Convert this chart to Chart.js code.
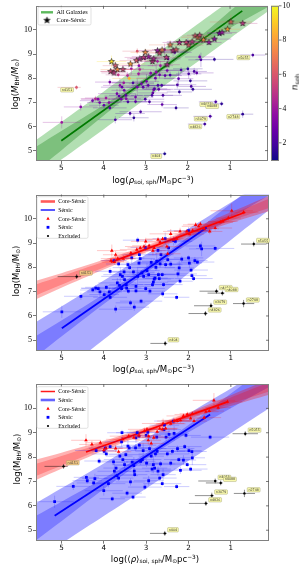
<!DOCTYPE html>
<html><head><meta charset="utf-8">
<script src="https://cdn.jsdelivr.net/npm/chart.js@4.4.0/dist/chart.umd.min.js"></script>
<style>
html,body{margin:0;padding:0;background:#fff;}
#wrap{position:relative;width:299px;height:569px;overflow:hidden;background:#fff;}
canvas{position:absolute;left:0;}
.t{position:absolute;font-family:"DejaVu Sans";font-size:8.6px;white-space:nowrap;color:#000;line-height:1;}
.yl{transform:translate(-50%,-50%) rotate(-90deg);}
.xl{transform:translate(-50%,-50%);}
.t sub{font-size:68%;vertical-align:-0.25em;line-height:0;}
.t sup{font-size:68%;vertical-align:0.45em;line-height:0;}
</style></head>
<body><div id="wrap">
<canvas id="c1" width="299" height="185" style="top:0px"></canvas>
<canvas id="c2" width="299" height="190" style="top:185px"></canvas>
<canvas id="c3" width="299" height="194" style="top:375px"></canvas>
<div class="t yl" style="left:15px;top:84px">log(<i>M</i><sub>BH</sub>/<i>M</i><sub>⊙</sub>)</div>
<div class="t xl" style="left:153px;top:179.5px">log(<i>ρ</i><sub>soi, sph</sub>/M<sub>⊙</sub>pc<sup>−3</sup>)</div>
<div class="t yl" style="left:294.5px;top:82px;font-size:9px"><i>n</i><sub>sph</sub></div>
<div class="t yl" style="left:16px;top:271px">log(M<sub>BH</sub>/M<sub>⊙</sub>)</div>
<div class="t xl" style="left:153.5px;top:369px">log(<i>ρ</i><sub>soi, sph</sub>/M<sub>⊙</sub>pc<sup>−3</sup>)</div>
<div class="t yl" style="left:17px;top:459px">log(M<sub>BH</sub>/M<sub>⊙</sub>)</div>
<div class="t xl" style="left:155px;top:559px">log(⟨<i>ρ</i>⟩<sub>soi, sph</sub>/M<sub>⊙</sub>pc<sup>−3</sup>)</div>
</div>
<script>
// ---------------- DATA ----------------
const xTicks=[1,2,3,4,5];
const yTicks=[5,6,7,8,9,10];
const cbTicks=[2,4,6,8,10];
const xMin=0.1,xMax=5.6,yMin=4.57,yMax=11.0,nMin=0.94,nMax=10;

// core-Sersic galaxies (panels 1 & 2)
const csX=[3.81,3.72,3.83,3.75,3.67,3.54,3.36,3.22,3.14,3.05,3.01,2.93,2.84,2.81,2.72,2.67,2.61,2.51,2.49,2.42,2.35,2.28,2.20,2.04,1.98,1.90,1.83,1.76,1.72,1.63,1.50,1.37,1.25,1.19,1.06,0.98,0.70];
const csY=[8.69,8.52,8.28,8.22,8.36,8.36,8.59,8.73,8.80,8.86,9.07,8.89,8.69,8.80,9.14,9.04,9.17,8.86,8.56,9.38,9.14,9.18,9.48,9.48,9.37,9.51,9.75,9.69,9.78,9.59,9.48,9.62,9.86,9.89,10.03,10.33,10.27];
const csN=[9.5,6,5.5,5,7.5,5.5,8,6,4.5,5,7.5,4,5,4.5,4,5.5,7,5,4.5,7,5,6,4.5,5.5,6,5,6,7,5.5,7.5,4,3.5,3,4,8,6.5,5];
const csXErr=[0.35,0.3,0.25,0.3,0.4,0.3,0.35,0.4,0.3,0.45,0.35,0.4,0.3,0.35,0.45,0.3,0.4,0.35,0.3,0.5,0.35,0.3,0.4,0.3,0.35,0.45,0.3,0.4,0.3,0.35,0.3,0.4,0.3,0.35,0.3,0.5,0.35];
const csYErr=[0.25,0.15,0.1,0.12,0.1,0.15,0.1,0.12,0.08,0.1,0.15,0.1,0.2,0.1,0.1,0.12,0.08,0.1,0.15,0.2,0.1,0.1,0.15,0.08,0.1,0.1,0.12,0.1,0.1,0.08,0.12,0.1,0.1,0.08,0.1,0.3,0.1];
// core-Sersic x in panel 3
const cs3X=[4.42,4.28,4.0,3.65,3.95,3.72,4.08,3.55,3.29,3.41,3.04,3.17,2.95,2.82,2.98,2.74,2.68,2.94,2.88,2.60,2.62,2.54,2.34,2.26,2.42,2.19,2.03,2.12,1.91,1.95,1.87,1.63,1.59,1.51,1.30,1.40,1.08];

// Sersic galaxies (panels 1 & 2)
const sX=[4.99,4.54,4.26,4.19,4.13,4.09,3.99,3.94,3.87,3.85,
3.85,3.76,3.72,3.68,3.65,3.63,3.61,3.58,3.56,3.52,
3.51,3.47,3.46,3.42,3.43,3.39,3.37,3.34,3.30,3.28,
3.24,3.24,3.20,3.20,3.17,3.16,3.14,3.12,3.10,3.06,
3.02,3.01,2.98,2.94,2.91,2.88,2.85,2.83,2.81,2.79,
2.77,2.75,2.72,2.71,2.69,2.67,2.65,2.62,2.61,2.59,
2.55,2.54,2.49,2.47,2.42,2.35,2.31,2.28,2.25,2.22,
2.20,2.16,2.00,2.00,1.98,1.94,1.92,1.88,1.85,1.79,
1.72,1.69,1.37];
const sY=[6.17,6.81,7.07,7.15,7.13,6.99,6.88,7.18,6.99,6.77,
7.84,8.28,6.28,7.36,8.14,7.26,7.70,7.13,7.63,7.81,
7.50,7.29,7.15,7.02,8.11,7.99,6.54,8.39,7.81,6.36,
7.22,7.03,7.63,9.12,8.18,8.52,8.36,6.61,7.77,7.63,
8.82,7.13,7.87,7.70,7.02,8.21,7.29,7.39,7.52,7.56,
8.00,8.25,8.70,7.70,7.54,8.14,8.52,7.70,6.91,7.29,
9.18,8.11,8.32,8.80,8.13,9.10,9.07,6.77,7.73,7.98,
7.43,8.34,8.39,9.51,8.18,7.89,7.66,7.54,8.28,8.22,
8.88,8.76,8.78];
const sN=[4,3.5,3,4.5,3.5,3,2.5,4,3.5,2.5,
3,5.5,2,3,5,2.5,3.5,3,2.5,4,
3,2.5,3.5,2,4.5,8.5,2,4,2,1.5,
3,2.5,3,6,4,3.5,4.5,2,3,2.5,
4,2,3,2.5,2,3.5,2,2.5,3,2,
3,3.5,4,2,2.5,3,4,2,2.5,2,
3.5,2.5,3,3,2,3,2.5,1.5,2,2.5,
1.5,2,1.5,3,2,1.5,2,1.5,2,2.5,
3,2,1.5];
const sXErr=[0.45,0.4,0.3,0.35,0.4,0.3,0.35,0.5,0.3,0.4,
0.35,0.3,0.4,0.45,0.3,0.35,0.4,0.3,0.5,0.35,
0.3,0.4,0.35,0.45,0.3,0.4,0.35,0.3,0.5,0.35,
0.4,0.3,0.45,0.35,0.3,0.4,0.35,0.5,0.3,0.4,
0.35,0.45,0.3,0.4,0.35,0.3,0.5,0.35,0.4,0.3,
0.45,0.35,0.3,0.4,0.35,0.5,0.3,0.4,0.35,0.45,
0.3,0.4,0.35,0.3,0.5,0.35,0.4,0.3,0.45,0.35,
0.3,0.4,0.35,0.5,0.3,0.4,0.35,0.45,0.3,0.4,
0.35,0.3,0.45];
const sYErr=[0.25,0.15,0.1,0.12,0.1,0.2,0.12,0.1,0.15,0.1,
0.12,0.1,0.15,0.2,0.1,0.12,0.3,0.1,0.15,0.12,
0.1,0.2,0.12,0.1,0.15,0.1,0.12,0.25,0.1,0.15,
0.12,0.1,0.35,0.12,0.1,0.15,0.2,0.1,0.12,0.1,
0.15,0.1,0.3,0.12,0.1,0.15,0.1,0.2,0.12,0.1,
0.15,0.35,0.1,0.12,0.1,0.15,0.2,0.1,0.12,0.1,
0.25,0.12,0.1,0.15,0.1,0.2,0.12,0.1,0.15,0.3,
0.1,0.12,0.1,0.15,0.2,0.1,0.12,0.1,0.15,0.1,
0.12,0.3,0.1];

// Sersic galaxies (panel 3)
const s3X=[5.16,4.72,4.41,4.39,4.24,4.21,4.11,4.18,3.99,3.96,
3.94,3.85,3.89,4.00,3.80,3.77,3.75,3.71,3.69,3.65,
3.62,3.58,3.57,3.55,3.51,3.48,3.45,3.43,3.40,3.37,
3.33,3.31,3.29,3.28,3.27,3.25,3.24,3.21,3.17,3.16,
3.13,3.09,3.07,3.03,3.00,2.99,2.96,2.94,2.92,2.88,
2.86,2.83,2.80,2.78,2.75,2.74,2.72,2.68,2.66,2.62,
2.60,2.58,2.57,2.53,2.50,2.46,2.42,2.38,2.36,2.34,
2.28,2.26,2.23,2.19,2.12,2.09,2.06,2.03,1.99,1.95,
1.92,1.91,1.49];
const s3Y=[6.17,6.80,7.17,7.03,6.94,7.12,7.84,8.27,8.24,8.37,
8.13,8.43,6.91,6.62,6.29,7.80,7.42,7.55,7.24,7.14,
8.04,8.63,9.00,7.90,7.69,8.10,6.52,8.45,8.38,6.98,
7.79,6.36,7.65,7.42,7.28,8.38,8.79,9.00,8.86,8.49,
7.83,7.90,8.27,6.77,8.89,7.75,9.02,7.03,8.35,8.04,
7.51,7.69,7.55,8.13,8.82,8.24,7.42,7.14,7.72,6.91,
7.28,9.13,9.31,8.82,8.13,8.93,7.75,8.24,9.48,8.97,
6.79,8.35,7.90,7.46,7.88,8.43,8.89,7.69,8.27,7.51,
8.23,7.97,8.82];

// excluded galaxies
const exName=["n4151","n5055","n4013","n4088","n3079","n4826","n2748","n404"];
const exX=[4.64,0.46,1.34,1.20,1.47,1.60,0.70,2.55];
const exY=[7.62,8.96,7.02,6.94,6.42,6.10,6.51,4.87];
const ex3X=[4.95,0.66,1.37,1.24,1.45,1.59,0.68,2.56];
const exN=[6,2,2,1.5,2,1.8,1.5,1.2];
const exXErrHi=[0.45,0.3,0.4,0.35,0.4,0.4,0.25,0.35];
const exXErrLo=[0.1,0.3,0.05,0.05,0.05,0.05,0.25,0.05];
const exYErr=[0.1,0.1,0.1,0.1,0.12,0.1,0.15,0.1];

// fit lines and bands
const bandX=[5.6,5,4,3,2,1,0.1];
const gLineX=[5.0,0.71], gLineY=[5.41,10.79];
const gOutUp=[5.44,6.19,7.44,8.70,9.95,11.21,12.33];
const gOutLo=[3.88,4.63,5.88,7.14,8.39,9.65,10.77];
const gInUp=[5.16,5.81,6.88,8.02,9.31,10.78,12.15];
const gInLo=[4.16,5.01,6.44,7.82,9.03,10.08,10.95];

const b2LineX=[4.99,1.57], b2LineY=[5.49,9.64];
const r2LineX=[3.83,0.66], r2LineY=[8.22,10.27];
const b2OutUp=[5.75,6.39,7.46,8.53,9.60,10.67,11.63];
const b2OutLo=[2.84,3.66,5.03,6.39,7.76,9.13,10.36];
const b2InUp=[5.17,5.81,6.89,8.02,9.27,10.63,11.87];
const b2InLo=[4.33,5.15,6.49,7.78,8.97,10.03,10.97];
const r2OutUp=[7.45,7.76,8.31,8.90,9.54,10.27,10.95];
const r2OutLo=[6.69,7.16,7.91,8.62,9.26,9.83,10.31];
const r2InUp=[7.30,7.64,8.23,8.84,9.48,10.18,10.82];
const r2InLo=[6.84,7.28,7.99,8.68,9.32,9.92,10.44];

const b3LineX=[5.16,1.49], b3LineY=[5.59,9.75];
const r3LineX=[4.42,1.08], r3LineY=[8.21,10.27];
const b3OutUp=[6.11,6.72,7.74,8.77,9.79,10.82,11.74];
const b3OutLo=[3.77,4.45,5.58,6.71,7.85,8.98,10.0];
const b3InUp=[5.59,6.17,7.13,8.16,9.32,10.61,11.78];
const b3InLo=[4.59,5.37,6.69,7.92,9.02,10.01,10.88];
const r3OutUp=[7.90,8.18,8.67,9.22,9.83,10.54,11.20];
const r3OutLo=[7.06,7.52,8.27,8.96,9.57,10.10,10.56];
const r3InUp=[7.73,8.05,8.59,9.17,9.78,10.45,11.07];
const r3InLo=[7.23,7.65,8.35,9.01,9.62,10.19,10.69];

// ---------------- HELPERS ----------------
const plasma=[[13,8,135],[65,4,157],[106,0,168],[143,13,164],[177,42,144],[204,71,120],[225,100,98],[242,132,75],[252,166,54],[252,206,37],[240,249,33]];
function nColor(n,a){let t=(n-nMin)/(nMax-nMin);t=Math.max(0,Math.min(1,t));const f=t*10;const i=Math.min(9,Math.floor(f));const u=f-i;const c0=plasma[i],c1=plasma[i+1];const c=c0.map((v,k)=>Math.round(v+(c1[k]-v)*u));return a==null?`rgb(${c.join(',')})`:`rgba(${c.join(',')},${a})`;}
function starImg(fill,R){const s=Math.ceil(2*R+2);const cv=document.createElement('canvas');cv.width=s;cv.height=s;const g=cv.getContext('2d');g.translate(s/2,s/2);g.beginPath();for(let k=0;k<10;k++){const r=k%2?R*0.42:R;const a=-Math.PI/2+k*Math.PI/5;g.lineTo(r*Math.cos(a),r*Math.sin(a));}g.closePath();g.fillStyle=fill;g.fill();g.lineWidth=0.6;g.strokeStyle='#1a1a1a';g.stroke();return cv;}
const pts=(xs,ys)=>xs.map((x,i)=>({x:x,y:ys[i]}));
const none='rgba(0,0,0,0)';
function band(up,lo,color,order){return [
 {type:'line',data:pts(bandX,up),fill:'+1',backgroundColor:color,borderColor:none,borderWidth:0,pointRadius:0,tension:0.3,order:order},
 {type:'line',data:pts(bandX,lo),fill:false,backgroundColor:none,borderColor:none,borderWidth:0,pointRadius:0,tension:0.3,order:order}];}
function fitLine(xs,ys,color,w){return {type:'line',data:pts(xs,ys),fill:false,borderColor:color,borderWidth:w,pointRadius:0,tension:0,order:5};}
function rrect(ctx,x,y,w,h,r){ctx.beginPath();ctx.moveTo(x+r,y);ctx.lineTo(x+w-r,y);ctx.quadraticCurveTo(x+w,y,x+w,y+r);ctx.lineTo(x+w,y+h-r);ctx.quadraticCurveTo(x+w,y+h,x+w-r,y+h);ctx.lineTo(x+r,y+h);ctx.quadraticCurveTo(x,y+h,x,y+h-r);ctx.lineTo(x,y+r);ctx.quadraticCurveTo(x,y,x+r,y);ctx.closePath();}

const errPlugin={id:'errbars',beforeDatasetDraw(chart,args){const ds=chart.data.datasets[args.index];if(!ds.errXp)return;const xs=chart.scales.x,ys=chart.scales.y,ctx=chart.ctx,a=chart.chartArea;ctx.save();ctx.beginPath();ctx.rect(a.left,a.top,a.width,a.height);ctx.clip();ctx.lineWidth=0.8;ds.data.forEach((p,i)=>{const px=xs.getPixelForValue(p.x),py=ys.getPixelForValue(p.y);ctx.strokeStyle=Array.isArray(ds.errColor)?ds.errColor[i]:ds.errColor;ctx.beginPath();ctx.moveTo(xs.getPixelForValue(p.x+ds.errXp[i]),py);ctx.lineTo(xs.getPixelForValue(p.x-ds.errXm[i]),py);ctx.moveTo(px,ys.getPixelForValue(p.y+ds.errY[i]));ctx.lineTo(px,ys.getPixelForValue(p.y-ds.errY[i]));ctx.stroke();});ctx.restore();}};

const framePlugin={id:'frame',afterDatasetsDraw(chart){const a=chart.chartArea,ctx=chart.ctx;ctx.save();ctx.strokeStyle='#808080';ctx.lineWidth=1;ctx.strokeRect(Math.round(a.left)+0.5,Math.round(a.top)+0.5,Math.round(a.width)-1,Math.round(a.height)-1);ctx.strokeStyle='#555';ctx.lineWidth=0.8;ctx.beginPath();xTicks.forEach(v=>{const p=chart.scales.x.getPixelForValue(v);ctx.moveTo(p,a.top);ctx.lineTo(p,a.top+3);});yTicks.forEach(v=>{const p=chart.scales.y.getPixelForValue(v);ctx.moveTo(a.right,p);ctx.lineTo(a.right-3,p);});ctx.stroke();ctx.restore();}};

const labelPlugin={id:'exlabels',afterDatasetsDraw(chart){const ctx=chart.ctx;chart.data.datasets.forEach(ds=>{if(!ds.names)return;ds.data.forEach((p,i)=>{const px=chart.scales.x.getPixelForValue(p.x),py=chart.scales.y.getPixelForValue(p.y);ctx.save();ctx.font='3.3px "DejaVu Sans"';const w=ctx.measureText(ds.names[i]).width+2.4,h=4.4;let bx,by;if(ds.labelSide==='left'){bx=px-3-w;by=py+0.3;}else{bx=px+2.8;by=py-1.4-h;}rrect(ctx,bx,by,w,h,0.8);ctx.fillStyle=ds.labelFill[i];ctx.fill();ctx.strokeStyle='rgba(140,140,90,0.9)';ctx.lineWidth=0.4;ctx.stroke();ctx.fillStyle='#333';ctx.textBaseline='middle';ctx.fillText(ds.names[i],bx+1.2,by+h/2+0.2);ctx.restore();});});}};

function legendPlugin(L){return {id:'clegend',afterDraw(chart){const ctx=chart.ctx;ctx.save();rrect(ctx,L.x,L.y,L.w,L.h,1.5);ctx.fillStyle='rgba(255,255,255,0.88)';ctx.fill();ctx.strokeStyle='#cfcfcf';ctx.lineWidth=0.6;ctx.stroke();ctx.font=L.font;ctx.textBaseline='middle';L.items.forEach(it=>{const y=it.y;if(it.kind==='line'){ctx.strokeStyle=it.color;ctx.lineWidth=it.w;ctx.beginPath();ctx.moveTo(L.l0,y);ctx.lineTo(L.l1,y);ctx.stroke();}else if(it.kind==='star'){const im=starImg('#000',3.3);ctx.drawImage(im,L.mx-im.width/2,y-im.height/2);}else if(it.kind==='tri'){ctx.fillStyle=it.color;ctx.beginPath();ctx.moveTo(L.mx,y-1.9);ctx.lineTo(L.mx+1.7,y+1.1);ctx.lineTo(L.mx-1.7,y+1.1);ctx.closePath();ctx.fill();}else if(it.kind==='sq'){ctx.fillStyle=it.color;ctx.fillRect(L.mx-1.4,y-1.4,2.8,2.8);}else if(it.kind==='dot'){ctx.fillStyle=it.color;ctx.beginPath();ctx.arc(L.mx,y,1.1,0,Math.PI*2);ctx.fill();}ctx.fillStyle='#000';ctx.fillText(it.label,L.tx,y+0.3);});ctx.restore();}};}

const colorbarPlugin={id:'cbar',afterDraw(chart){const a=chart.chartArea,ctx=chart.ctx;const x0=271,x1=279;ctx.save();const g=ctx.createLinearGradient(0,a.bottom,0,a.top);plasma.forEach((c,i)=>g.addColorStop(i/10,`rgb(${c.join(',')})`));ctx.fillStyle=g;ctx.fillRect(x0,a.top,x1-x0,a.height);ctx.strokeStyle='#808080';ctx.lineWidth=1;ctx.strokeRect(x0+0.5,a.top+0.5,x1-x0-1,a.height-1);ctx.strokeStyle='#555';ctx.lineWidth=0.8;ctx.fillStyle='#000';ctx.font='7.5px "Liberation Serif"';ctx.textBaseline='middle';cbTicks.forEach(v=>{const py=a.bottom-(v-nMin)/(nMax-nMin)*a.height;ctx.beginPath();ctx.moveTo(x1,py);ctx.lineTo(x1+2.5,py);ctx.stroke();ctx.fillText(String(v),x1+3.5,py+0.3);});ctx.restore();}};

function makeChart(id,cfg){
 return new Chart(document.getElementById(id),{
  type:'scatter',
  data:{datasets:cfg.datasets},
  options:{responsive:false,animation:false,events:[],
   layout:{padding:{top:cfg.padTop,right:cfg.padRight,left:0,bottom:0}},
   plugins:{legend:{display:false},tooltip:{enabled:false}},
   scales:{
    x:{type:'linear',reverse:true,min:xMin,max:xMax,
     afterBuildTicks:s=>{s.ticks=xTicks.map(v=>({value:v}));},
     afterFit:s=>{s.height=cfg.xH;},
     grid:{display:true,drawOnChartArea:false,drawTicks:true,tickLength:3,color:'#555',lineWidth:0.8},
     border:{display:false},
     ticks:{color:'#000',font:{family:'DejaVu Sans',size:7.2},padding:0,maxRotation:0,autoSkip:false}},
    y:{type:'linear',min:yMin,max:yMax,
     afterBuildTicks:s=>{s.ticks=yTicks.map(v=>({value:v}));},
     afterFit:s=>{s.width=36;},
     grid:{display:true,drawOnChartArea:false,drawTicks:true,tickLength:3,color:'#555',lineWidth:0.8},
     border:{display:false},
     ticks:{color:'#000',font:{family:'Liberation Serif',size:8},padding:1,autoSkip:false}}
   }},
  plugins:[errPlugin,framePlugin,labelPlugin,legendPlugin(cfg.legend)].concat(cfg.extra||[])
 });
}

// ---------------- PANEL 1 ----------------
makeChart('c1',{padTop:4,padRight:31,xH:24,
 datasets:[].concat(
  band(gOutUp,gOutLo,'rgba(0,150,0,0.3)',10),
  band(gInUp,gInLo,'rgba(0,120,0,0.3)',9),
  [fitLine(gLineX,gLineY,'#007a00',1.7),
   {data:pts(sX,sY),pointStyle:'circle',pointRadius:1.35,backgroundColor:sN.map(n=>nColor(n)),borderWidth:0,order:3,
    errXp:sXErr,errXm:sXErr,errY:sYErr,errColor:sN.map(n=>nColor(n,0.32))},
   {data:pts(exX,exY),pointStyle:'circle',pointRadius:1.35,backgroundColor:exN.map(n=>nColor(n)),borderWidth:0,order:2,
    errXp:exXErrHi,errXm:exXErrLo,errY:exYErr,errColor:exN.map(n=>nColor(n,0.32)),
    names:exName,labelSide:'left',labelFill:exName.map(()=>'rgba(250,250,170,0.95)')},
   {data:pts(csX,csY),pointStyle:csN.map(n=>starImg(nColor(n),3.1)),pointRadius:3,order:1,
    errXp:csXErr,errXm:csXErr,errY:csYErr,errColor:csN.map(n=>nColor(n,0.32))}]
 ),
 legend:{x:38,y:7,w:53,h:18,l0:41,l1:53,mx:47,tx:56.5,font:'6.2px "Liberation Serif"',
  items:[{kind:'line',color:'#5cb85c',w:2.4,label:'All Galaxies',y:12.3},{kind:'star',label:'Core-Sérsic',y:20.3}]},
 extra:[colorbarPlugin]
});

// ---------------- PANEL 2 ----------------
const lg23=(red,blue)=>({x:37,y:11.7,w:51,h:41.6,l0:40.7,l1:55,mx:48,tx:58.3,font:'5.8px "Liberation Serif"',
 items:[{kind:'line',color:red.c,w:red.w,label:'Core-Sérsic',y:16.5},{kind:'line',color:blue.c,w:blue.w,label:'Sérsic',y:25},
  {kind:'tri',color:'#ff0000',label:'Core-Sérsic',y:33.7},{kind:'sq',color:'#0000ff',label:'Sérsic',y:42.3},{kind:'dot',color:'#000',label:'Excluded',y:51}]});

makeChart('c2',{padTop:9.5,padRight:30,xH:24.3,
 datasets:[].concat(
  band(b2OutUp,b2OutLo,'rgba(0,0,255,0.33)',12),
  band(b2InUp,b2InLo,'rgba(0,0,255,0.28)',11),
  band(r2OutUp,r2OutLo,'rgba(255,0,0,0.3)',10),
  band(r2InUp,r2InLo,'rgba(255,0,0,0.25)',9),
  [fitLine(b2LineX,b2LineY,'#0000ff',1.8),fitLine(r2LineX,r2LineY,'#ff0000',1.8),
   {data:pts(sX,sY),pointStyle:'rect',pointRadius:1.95,backgroundColor:'#0000ff',borderWidth:0,order:3,
    errXp:sXErr,errXm:sXErr,errY:sYErr,errColor:'rgba(0,0,255,0.25)'},
   {data:pts(csX,csY),pointStyle:'triangle',pointRadius:2.1,backgroundColor:'#ff0000',borderWidth:0,order:2,
    errXp:csXErr,errXm:csXErr,errY:csYErr,errColor:'rgba(255,0,0,0.28)'},
   {data:pts(exX,exY),pointStyle:'circle',pointRadius:1.2,backgroundColor:'#000',borderWidth:0,order:1,
    errXp:exXErrHi,errXm:exXErrLo,errY:exYErr,errColor:'rgba(0,0,0,0.55)',
    names:exName,labelSide:'right',labelFill:exName.map((s,i)=>i===0?'rgba(245,200,130,0.95)':'rgba(250,250,170,0.95)')}]
 ),
 legend:lg23({c:'#ff5a5a',w:2.6},{c:'#1f1fff',w:1.5})
});

// ---------------- PANEL 3 ----------------
makeChart('c3',{padTop:9,padRight:30,xH:28.3,
 datasets:[].concat(
  band(b3OutUp,b3OutLo,'rgba(0,0,255,0.33)',12),
  band(b3InUp,b3InLo,'rgba(0,0,255,0.28)',11),
  band(r3OutUp,r3OutLo,'rgba(255,0,0,0.3)',10),
  band(r3InUp,r3InLo,'rgba(255,0,0,0.25)',9),
  [fitLine(b3LineX,b3LineY,'#0000ff',1.8),fitLine(r3LineX,r3LineY,'#ff0000',1.8),
   {data:pts(s3X,s3Y),pointStyle:'rect',pointRadius:1.95,backgroundColor:'#0000ff',borderWidth:0,order:3,
    errXp:sXErr,errXm:sXErr,errY:sYErr,errColor:'rgba(0,0,255,0.25)'},
   {data:pts(cs3X,csY),pointStyle:'triangle',pointRadius:2.1,backgroundColor:'#ff0000',borderWidth:0,order:2,
    errXp:csXErr,errXm:csXErr,errY:csYErr,errColor:'rgba(255,0,0,0.28)'},
   {data:pts(ex3X,exY),pointStyle:'circle',pointRadius:1.2,backgroundColor:'#000',borderWidth:0,order:1,
    errXp:exXErrHi,errXm:exXErrLo,errY:exYErr,errColor:'rgba(0,0,0,0.55)',
    names:exName,labelSide:'right',labelFill:exName.map((s,i)=>i===0?'rgba(245,200,130,0.95)':'rgba(250,250,170,0.95)')}]
 ),
 legend:lg23({c:'#ff1a1a',w:1.5},{c:'#6464ff',w:2.6})
});
</script>
</body></html>
